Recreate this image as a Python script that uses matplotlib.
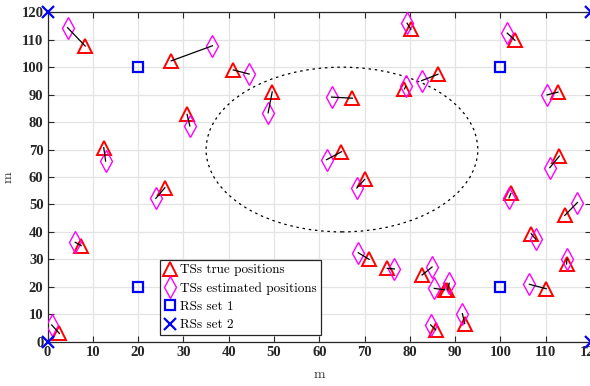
import matplotlib
matplotlib.use("Agg")
import matplotlib.pyplot as plt
from matplotlib.patches import Ellipse

# TSs true positions (triangles) and estimated positions (diamonds), paired
true_x = [8.3, 27.3, 41.0, 49.6, 30.8, 12.4, 25.9, 7.4, 2.6, 67.3,
          64.9, 70.0, 80.2, 86.2, 78.8, 103.2, 112.7, 113.0, 114.2, 102.3,
          106.8, 114.6, 110.1, 82.7, 87.7, 88.3, 85.7, 92.1, 75.0, 71.0]
true_y = [107.7, 102.3, 99.0, 91.0, 82.8, 70.7, 56.1, 35.0, 3.0, 88.7,
          69.2, 59.1, 113.8, 97.4, 92.1, 109.8, 90.9, 67.6, 46.0, 54.0,
          39.3, 28.3, 19.3, 24.3, 18.9, 19.0, 4.3, 6.6, 26.7, 30.0]
est_x = [4.4, 36.4, 44.5, 48.7, 31.4, 12.8, 23.9, 6.1, 0.9, 62.7,
         61.6, 68.3, 79.4, 82.6, 79.1, 101.5, 110.3, 110.9, 117.0, 101.9,
         107.8, 114.7, 106.4, 84.9, 85.4, 88.7, 84.6, 91.6, 76.6, 68.6]
est_y = [114.4, 107.8, 97.5, 83.4, 78.6, 65.8, 52.2, 36.2, 6.1, 89.1,
         66.3, 56.0, 116.0, 95.1, 93.0, 112.4, 89.9, 63.4, 50.7, 52.4,
         37.3, 30.0, 20.9, 27.2, 19.4, 21.3, 6.1, 10.2, 26.5, 32.4]

# reference stations
rs1_x = [20, 100, 20, 100]
rs1_y = [100, 100, 20, 20]
rs2_x = [0, 0, 120, 120]
rs2_y = [0, 120, 120, 0]

# dotted circle region
circle_center = (65, 70)
circle_radius = 30

xticks = list(range(0, 121, 10))
yticks = list(range(0, 121, 10))

fig = plt.figure(figsize=(5.9, 3.86), dpi=100)
ax = fig.add_axes([0.0807, 0.1148, 0.921, 0.8534])

ax.add_patch(Ellipse(circle_center, 2 * circle_radius, 2 * circle_radius,
                     fill=False, edgecolor='black', linewidth=0.9,
                     linestyle=(0, (2, 3)), zorder=2))

ax.plot(true_x, true_y, linestyle='none', marker='^', markersize=10,
        markerfacecolor='none', markeredgecolor='#ff0000', markeredgewidth=1.4,
        label='TSs true positions', zorder=3)
ax.plot(est_x, est_y, linestyle='none', marker='d', markersize=11,
        markerfacecolor='none', markeredgecolor='#ff00ff', markeredgewidth=1.0,
        label='TSs estimated positions', zorder=3)
ax.plot(rs1_x, rs1_y, linestyle='none', marker='s', markersize=7,
        markerfacecolor='none', markeredgecolor='#0000ff', markeredgewidth=1.6,
        label='RSs set 1', zorder=3)
ax.plot(rs2_x, rs2_y, linestyle='none', marker='x', markersize=8,
        markeredgecolor='#0000ff', markeredgewidth=1.6,
        label='RSs set 2', zorder=5, clip_on=False)

# connect each true position to its estimate
for tx, ty, ex, ey in zip(true_x, true_y, est_x, est_y):
    ax.plot([tx, ex], [ty, ey], color='black', linewidth=0.9, zorder=4)

ax.set_xlim(0, 120)
ax.set_ylim(0, 120)
ax.set_xticks(xticks)
ax.set_yticks(yticks)
ax.grid(True, color='#e3e3e3', linewidth=0.9)
ax.set_axisbelow(True)
ax.tick_params(direction='in', length=4, width=0.8, top=True, right=True,
               colors='#262626', pad=3)
for lab in ax.get_xticklabels() + ax.get_yticklabels():
    lab.set_fontfamily('Liberation Serif')
    lab.set_fontweight('bold')
    lab.set_fontsize(10.5)
    lab.set_color('#262626')
for sp in ax.spines.values():
    sp.set_color('#262626')
    sp.set_linewidth(0.9)

ax.set_xlabel('m', fontfamily='cmr10', fontsize=10, color='#333333', labelpad=7)
ax.set_ylabel('m', fontfamily='cmr10', fontsize=10, color='#333333', labelpad=5)

leg = ax.legend(loc='lower left', bbox_to_anchor=(0.207, 0.02), borderaxespad=0,
                prop={'family': 'cmr10', 'size': 9.5}, frameon=True, fancybox=False,
                edgecolor='#262626', framealpha=1, handlelength=0.9,
                handletextpad=0.3, labelspacing=0.45, borderpad=0.3)
leg.get_frame().set_linewidth(0.9)

fig.savefig('out.png', dpi=100)
